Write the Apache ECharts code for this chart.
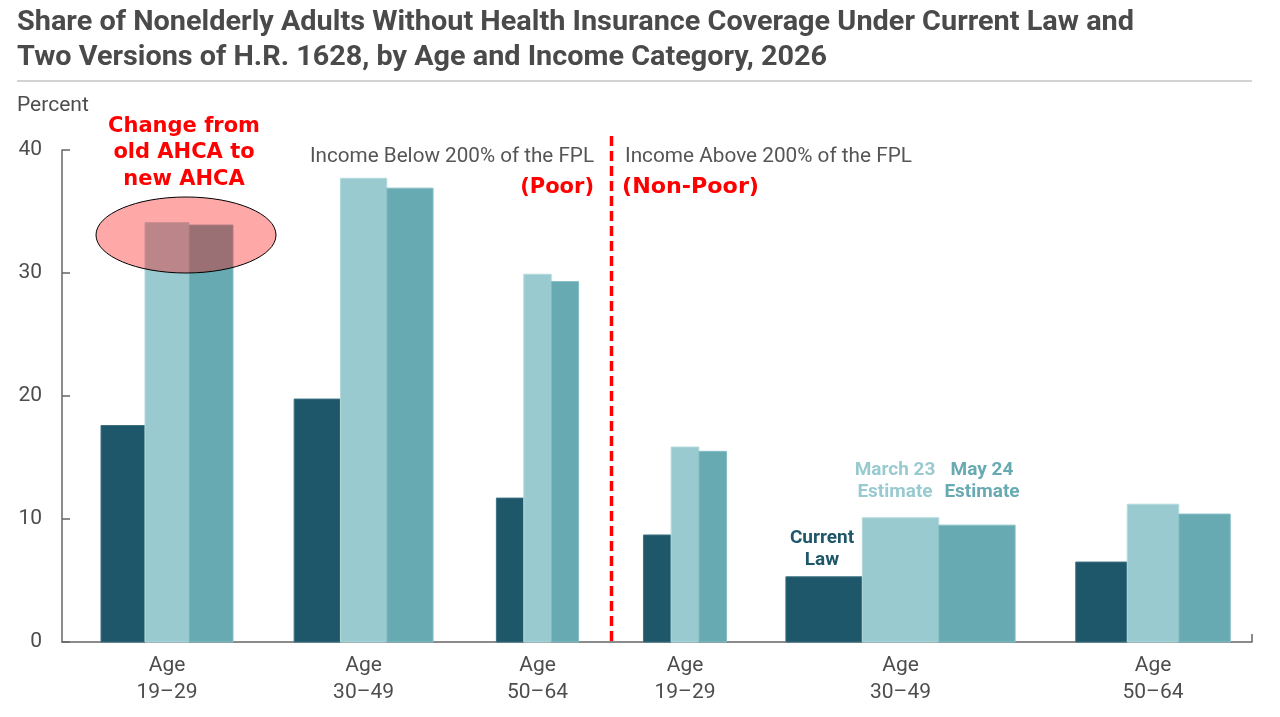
<!DOCTYPE html>
<html><head><meta charset="utf-8">
<script src="https://cdn.jsdelivr.net/npm/echarts@6/dist/echarts.min.js"></script>
<style>html,body{margin:0;padding:0;background:#fff}#c{width:1280px;height:717px}</style>
</head><body><div id="c"></div>
<script>
// ---- data ----
const categories = ['Age\n19–29','Age\n30–49','Age\n50–64','Age\n19–29','Age\n30–49','Age\n50–64'];
const seriesNames = ['Current Law','March 23 Estimate','May 24 Estimate'];
const currentLaw = [17.6, 19.75, 11.7, 8.7, 5.3, 6.5];
const march23   = [34.1, 37.7, 29.9, 15.85, 10.1, 11.2];
const may24     = [33.9, 36.9, 29.3, 15.5, 9.5, 10.4];
const yTicks = [0, 10, 20, 30, 40];

// ---- layout (horizontal axis units) ----
const groupCenter = [167, 363.6, 537.5, 685, 900.5, 1153];
const barWidth = [44, 46.3, 27.4, 27.7, 76.4, 51.5];
const colors = ['#1e5769', '#99cad0', '#67aab2'];
const strokes = ['#3d7283', '#b3dade', '#86bec5'];

function fitScale(text, font, target){
  const c = document.createElement('canvas').getContext('2d');
  c.font = font;
  return target / c.measureText(text).width;
}

const chart = echarts.init(document.getElementById('c'), null, {renderer:'canvas'});

function makeRender(k){
  return function(params, api){
    const i = api.value(2), v = api.value(1);
    const w = barWidth[i];
    const x0 = groupCenter[i] + (k - 1.5) * w;
    const p0 = api.coord([x0, v]);
    const p1 = api.coord([x0 + w, 0]);
    return {type:'rect', shape:{x:p0[0], y:p0[1], width:p1[0]-p0[0], height:p1[1]-p0[1]},
      style:{fill:colors[k], stroke:strokes[k], lineWidth:1}};
  };
}
const allSeries = [currentLaw, march23, may24].map((arr, k) => ({
  type:'custom', name: seriesNames[k],
  data: arr.map((v, i) => [groupCenter[i], v, i]),
  encode:{x:0, y:1},
  renderItem: makeRender(k), silent:true
}));

const t1 = 'Share of Nonelderly Adults Without Health Insurance Coverage Under Current Law and';
const t2 = 'Two Versions of H.R. 1628, by Age and Income Category, 2026';
const titleFont = 'bold 28px Roboto';
const s1 = fitScale(t1, titleFont, 1117);
const s2 = fitScale(t2, titleFont, 810);
const hFont = '20px Roboto';
const h1 = 'Income Below 200% of the FPL', h2 = 'Income Above 200% of the FPL';
const sh1 = fitScale(h1, hFont, 284);
const sh2 = fitScale(h2, hFont, 287);

const redFont = 'bold 21px "DejaVu Sans"';
const nonPoorScale = fitScale('(Non-Poor)', redFont, 137);
const legFont = 'bold 19px Roboto';

chart.setOption({
  animation:false,
  grid:{left:62, right:28, top:150, bottom:75},
  xAxis:{type:'value', min:62, max:1252,
    axisLine:{show:true, lineStyle:{color:'#666', width:1.5}},
    splitLine:{show:false},
    axisTick:{show:true, inside:true, length:8, customValues:[1252], lineStyle:{color:'#666', width:1.5}},
    axisLabel:{customValues: groupCenter, formatter: v => categories[groupCenter.indexOf(v)] || '',
      fontFamily:'Roboto', fontSize:21, color:'#4d4d4d', lineHeight:27, margin:10}
  },
  yAxis:{type:'value', min:yTicks[0], max:yTicks[yTicks.length-1], interval:10,
    axisLine:{show:true, lineStyle:{color:'#666', width:1.5}},
    axisTick:{show:true, inside:true, length:8, lineStyle:{color:'#666', width:1.5}},
    splitLine:{show:false},
    axisLabel:{fontFamily:'Roboto', fontSize:21, color:'#4d4d4d', margin:20}
  },
  series: allSeries,
  graphic:[
    {type:'text', x:17, y:23, scaleX:s1, style:{text:t1, font:titleFont, fill:'#4a4a4a', textVerticalAlign:'middle'}},
    {type:'text', x:17, y:58, scaleX:s2, style:{text:t2, font:titleFont, fill:'#4a4a4a', textVerticalAlign:'middle'}},
    {type:'line', shape:{x1:17, y1:81, x2:1252, y2:81}, style:{stroke:'#c4c4c4', lineWidth:1.5}},
    {type:'text', x:17, y:106, style:{text:'Percent', font:'21px Roboto', fill:'#4d4d4d', textVerticalAlign:'middle'}},
    {type:'text', x:310, y:157, scaleX:sh1, style:{text:h1, font:hFont, fill:'#555', textVerticalAlign:'middle'}},
    {type:'text', x:625, y:157, scaleX:sh2, style:{text:h2, font:hFont, fill:'#555', textVerticalAlign:'middle'}},
    {type:'text', x:594, y:188, style:{text:'(Poor)', font:redFont, fill:'#ff0000', textAlign:'right', textVerticalAlign:'middle'}},
    {type:'text', x:622, y:188, scaleX:nonPoorScale, style:{text:'(Non-Poor)', font:redFont, fill:'#ff0000', textVerticalAlign:'middle'}},
    {type:'line', shape:{x1:611.5, y1:136, x2:611.5, y2:641}, style:{stroke:'#ff0000', lineWidth:3.5, lineDash:[10,5]}, z:50},
    {type:'text', x:184, y:113, style:{text:'Change from\nold AHCA to\nnew AHCA', font:redFont, fill:'#ff0000', textAlign:'center', textVerticalAlign:'top', lineHeight:26.5}},
    {type:'ellipse', shape:{cx:186, cy:235, rx:90, ry:38}, style:{fill:'rgba(255,0,0,0.34)', stroke:'#000', lineWidth:1}, z:100},
    {type:'text', x:822, y:527, style:{text:'Current\nLaw', font:legFont, fill:colors[0], textAlign:'center', textVerticalAlign:'top', lineHeight:22}},
    {type:'text', x:895, y:459, style:{text:'March 23\nEstimate', font:legFont, fill:colors[1], textAlign:'center', textVerticalAlign:'top', lineHeight:22}},
    {type:'text', x:982, y:459, style:{text:'May 24\nEstimate', font:legFont, fill:colors[2], textAlign:'center', textVerticalAlign:'top', lineHeight:22}}
  ]
});
</script></body></html>
